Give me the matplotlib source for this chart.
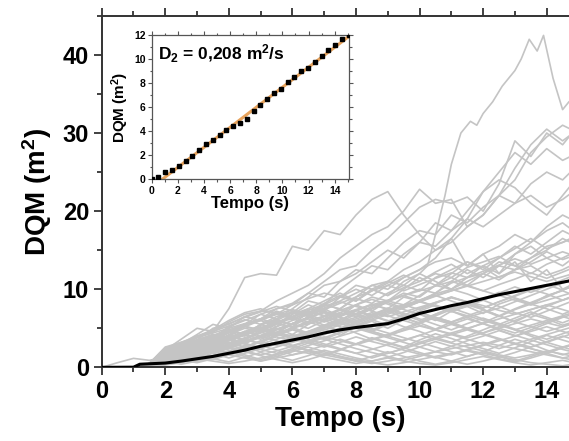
import numpy as np
import matplotlib.pyplot as plt
from matplotlib.ticker import MultipleLocator

plt.rcParams['font.family'] = 'Liberation Sans'
plt.rcParams['font.weight'] = 'bold'
plt.rcParams['mathtext.fontset'] = 'custom'
plt.rcParams['mathtext.rm'] = 'Liberation Sans:bold'
plt.rcParams['mathtext.bf'] = 'Liberation Sans:bold'
plt.rcParams['mathtext.default'] = 'bf'

# sample times of the individual walks (s)
t_walk = [0, 0.5, 1, 1.5, 2, 2.5, 3, 3.5, 4, 4.5, 5, 5.5, 6, 6.5, 7, 7.5,
          8, 8.5, 9, 9.5, 10, 10.5, 11, 11.5, 12, 12.5, 13, 13.5, 14, 14.5, 15]

# the walk that peaks at ~42 m^2
t_peak = [0, 0.5, 1, 1.5, 2, 2.5, 3, 3.5, 4, 4.5, 5, 5.5, 6, 6.5, 7, 7.5, 8, 8.5,
          9, 9.5, 10, 10.25, 10.5, 10.8, 11.0, 11.3, 11.6, 11.8, 12.0, 12.3, 12.6,
          13.0, 13.2, 13.45, 13.7, 13.9, 14.2, 14.5, 14.7, 15]
v_peak = [0, 0, 0, 0.3, 1.5, 2.8, 3.5, 4.2, 3.8, 5.5, 6.0, 5.2, 6.8, 8.0, 7.2, 9.0,
          8.5, 10.0, 9.2, 11.0, 12.0, 13.0, 17.0, 22.0, 26.0, 30.0, 31.5, 31.0,
          32.5, 34.0, 36.0, 38.0, 39.5, 42.0, 40.5, 42.5, 37.0, 33.0, 34.0, 35.0]

high_walks = [
    [0, 0, 0, 0.5, 2.2, 3.6, 5.0, 4.6, 7.5, 11.5, 12.0, 11.8, 15.5, 15.0, 17.5, 17.0, 19.5, 21.5, 22.5, 19.5, 17.0, 15.0, 16.5, 13.0, 14.5, 12.0, 13.5, 11.0, 12.5, 10.0, 11.0],
    [0, 0, 0, 0.2, 1.5, 3.0, 4.2, 5.5, 5.0, 6.5, 7.2, 8.5, 9.5, 10.5, 12.0, 14.0, 15.5, 17.0, 18.0, 20.0, 22.8, 21.0, 21.5, 18.0, 19.5, 22.0, 25.5, 28.5, 30.5, 29.0, 30.5],
    [0, 0, 0, 0.2, 1.2, 2.5, 3.0, 4.0, 4.8, 5.5, 6.2, 7.5, 8.2, 9.5, 11.0, 12.5, 13.0, 15.0, 16.5, 18.5, 20.5, 21.5, 21.0, 21.8, 20.0, 23.5, 29.0, 27.0, 30.0, 28.5, 31.0],
    [0, 0, 0, 0.4, 1.8, 2.2, 3.5, 3.2, 4.5, 5.2, 4.8, 6.0, 7.0, 6.5, 8.0, 7.5, 9.0, 10.5, 10.0, 11.5, 12.5, 14.0, 16.5, 19.0, 22.5, 25.0, 27.5, 26.0, 28.0, 26.5, 27.5],
    [0, 0, 0, 0.1, 1.0, 1.8, 2.5, 3.8, 4.0, 5.5, 6.8, 6.2, 7.5, 9.0, 10.5, 11.0, 12.5, 12.0, 14.0, 16.0, 17.5, 17.0, 19.5, 18.5, 20.5, 22.0, 21.0, 23.5, 25.0, 24.0, 26.0],
    [0, 0, 0, 0.3, 2.0, 2.6, 3.8, 4.8, 6.0, 7.0, 7.5, 6.8, 8.0, 9.5, 9.0, 11.0, 12.0, 13.5, 15.0, 14.0, 16.0, 15.5, 17.5, 19.0, 18.0, 19.5, 21.0, 22.0, 20.5, 21.5, 23.0],
    [0, 0, 0, 0.0, 0.8, 1.5, 2.8, 3.5, 4.5, 4.0, 5.5, 6.5, 7.0, 8.5, 8.0, 10.0, 11.5, 13.0, 12.5, 14.5, 16.0, 18.5, 17.5, 20.0, 22.5, 24.0, 23.0, 21.0, 19.5, 22.0, 24.5],
    [0, 0, 0, 0.2, 1.0, 1.8, 2.4, 3.0, 3.6, 4.2, 5.0, 5.8, 6.2, 7.0, 7.8, 8.5, 9.5, 10.5, 11.0, 12.5, 13.5, 15.0, 16.0, 18.0, 19.5, 22.0, 24.0, 27.5, 29.5, 31.0, 30.0],
]

mid_walks = [
    [0, 0, 0, 0.3, 1.4, 2.0, 2.8, 3.5, 3.0, 4.5, 5.0, 6.0, 5.5, 7.0, 7.5, 6.5, 8.0, 9.0, 8.5, 10.0, 11.5, 10.5, 12.0, 13.5, 12.5, 14.0, 15.5, 14.5, 16.0, 17.5, 16.5],
    [0, 0, 0, 0.5, 2.5, 3.0, 3.5, 5.0, 5.5, 6.5, 6.0, 7.2, 6.5, 7.5, 8.5, 9.5, 8.5, 10.0, 11.0, 10.5, 12.0, 11.0, 10.0, 11.5, 13.0, 12.0, 14.5, 15.5, 14.0, 13.0, 14.5],
    [0, 0, 0, 0.0, 1.0, 1.5, 2.0, 2.5, 3.2, 3.0, 4.0, 4.5, 5.5, 5.0, 6.0, 7.0, 6.5, 7.5, 8.5, 9.5, 9.0, 10.5, 11.5, 10.5, 12.0, 13.0, 12.5, 14.0, 15.0, 16.5, 15.5],
    [0, 0, 0, 0.2, 1.6, 2.4, 2.0, 3.0, 4.2, 5.0, 4.6, 5.5, 6.8, 7.5, 7.0, 6.0, 7.2, 8.0, 7.5, 9.0, 8.5, 9.5, 11.0, 12.5, 11.5, 13.0, 14.5, 16.0, 17.5, 18.5, 17.0],
    [0, 0, 0, 0.1, 0.8, 1.2, 2.2, 2.8, 2.5, 3.5, 4.8, 5.6, 5.2, 6.5, 6.0, 7.5, 8.8, 8.2, 9.5, 10.5, 9.8, 11.5, 12.5, 13.5, 12.8, 11.5, 12.5, 13.0, 11.8, 12.5, 13.5],
    [0, 0, 0, 0.4, 2.0, 2.8, 4.0, 4.5, 5.8, 6.8, 7.2, 7.0, 6.2, 7.0, 8.0, 9.0, 10.0, 9.2, 10.5, 11.5, 12.5, 13.5, 14.0, 13.0, 14.5, 15.5, 17.0, 16.0, 18.0, 19.5, 18.5],
    [0, 0, 0, 0.3, 1.2, 1.8, 2.5, 3.5, 4.0, 3.6, 4.5, 5.0, 4.2, 5.5, 6.5, 7.0, 8.0, 7.2, 8.5, 9.2, 10.0, 9.5, 10.8, 11.5, 12.0, 13.5, 13.0, 12.0, 13.2, 14.0, 15.0],
    [0, 0, 0, 0.0, 0.5, 1.0, 1.5, 2.2, 3.0, 3.8, 4.5, 4.0, 5.0, 5.8, 6.5, 5.8, 6.8, 7.8, 8.5, 8.0, 9.2, 10.5, 10.0, 11.0, 12.0, 11.2, 12.5, 13.5, 14.8, 13.8, 14.5],
    [0, 0, 0, 0.2, 1.8, 2.6, 3.0, 3.8, 5.2, 6.0, 6.8, 7.5, 8.0, 8.8, 9.5, 9.0, 10.5, 10.0, 9.2, 10.2, 11.0, 12.0, 11.5, 12.8, 13.5, 14.2, 13.0, 14.0, 15.5, 16.0, 17.0],
    [0, 0, 0, 0.1, 1.0, 2.2, 3.2, 4.0, 4.8, 4.2, 5.5, 6.2, 7.2, 6.8, 8.2, 9.2, 8.5, 9.8, 10.8, 11.8, 11.0, 12.2, 13.2, 12.0, 13.0, 14.0, 15.2, 16.5, 15.2, 16.0, 16.8],
]

low_walks = [
    [0, 0, 0, 0.2, 1.0, 1.6, 1.2, 2.2, 2.8, 2.4, 3.3, 3.9, 3.4, 4.3, 4.9, 4.1, 5.2, 5.9, 5.0, 6.1, 6.8, 6.0, 7.2, 7.8, 6.9, 8.1, 8.8, 8.0, 9.2, 9.8, 9.0],
    [0, 0, 0, 0.4, 2.2, 2.8, 3.4, 2.6, 3.8, 4.6, 5.2, 4.4, 5.6, 6.2, 5.4, 4.6, 5.8, 6.6, 7.2, 6.4, 5.6, 6.8, 7.6, 8.2, 7.4, 6.6, 5.8, 6.8, 7.8, 8.6, 9.4],
    [0, 0.6, 1.15, 0.9, 1.3, 1.1, 1.8, 2.4, 1.8, 2.6, 3.4, 4.1, 4.8, 4.2, 3.6, 4.4, 5.2, 4.6, 4.0, 4.8, 5.6, 6.4, 5.8, 5.0, 4.4, 5.2, 6.0, 6.8, 6.2, 5.4, 6.0],
    [0, 0, 0, 0.3, 1.4, 2.0, 2.6, 3.2, 3.8, 4.6, 4.0, 3.4, 2.8, 3.4, 4.2, 5.0, 5.8, 6.6, 6.0, 5.2, 4.6, 3.8, 3.2, 4.0, 4.8, 5.6, 4.8, 4.0, 3.2, 2.6, 3.2],
    [0, 0, 0, 0.0, 0.4, 0.8, 1.4, 1.0, 1.6, 2.2, 2.8, 2.2, 1.6, 2.2, 2.8, 3.6, 3.0, 2.4, 1.8, 2.4, 3.2, 2.6, 2.0, 1.4, 2.0, 2.8, 3.6, 3.0, 2.2, 1.6, 2.2],
    [0, 0, 0, 0.2, 1.2, 1.8, 2.4, 3.0, 3.6, 3.0, 2.4, 3.0, 3.8, 4.6, 5.4, 6.2, 5.6, 6.4, 7.2, 8.0, 7.4, 8.2, 9.0, 8.4, 7.6, 8.4, 9.2, 10.0, 9.4, 8.6, 9.4],
    [0, 0, 0, 0.5, 2.4, 3.0, 2.4, 1.8, 2.4, 3.2, 4.0, 4.8, 5.6, 6.4, 7.0, 6.4, 5.6, 4.8, 5.6, 6.4, 7.2, 8.0, 7.2, 6.4, 5.6, 4.8, 4.0, 4.8, 5.6, 6.4, 7.0],
    [0, 0, 0, 0.1, 0.8, 1.4, 0.8, 1.4, 2.0, 1.4, 0.8, 1.4, 2.0, 2.6, 2.0, 1.4, 0.8, 1.4, 2.0, 1.4, 0.8, 0.4, 0.8, 1.4, 2.0, 1.4, 0.8, 1.4, 2.0, 2.6, 2.0],
    [0, 0, 0, 0.3, 1.6, 2.2, 2.8, 3.6, 4.4, 5.2, 6.0, 6.8, 7.4, 6.8, 6.0, 5.2, 4.4, 3.6, 4.2, 5.0, 5.8, 6.6, 7.4, 8.0, 7.4, 6.6, 5.8, 5.2, 4.6, 5.2, 6.0],
    [0, 0, 0, 0.2, 1.0, 1.6, 2.2, 2.8, 2.2, 1.6, 1.0, 1.6, 2.2, 2.8, 3.4, 4.0, 4.6, 5.2, 5.8, 6.4, 7.0, 6.4, 5.8, 6.4, 7.0, 7.6, 8.4, 9.2, 10.0, 10.8, 11.6],
    [0, 0, 0, 0.0, 0.6, 1.2, 1.8, 2.4, 3.0, 3.6, 3.0, 3.6, 4.2, 3.6, 3.0, 2.4, 1.8, 1.2, 1.8, 2.4, 3.0, 3.6, 4.2, 4.8, 4.2, 3.6, 3.0, 2.4, 1.8, 1.2, 0.8],
    [0, 0, 0, 0.4, 2.0, 2.6, 3.2, 3.8, 4.6, 5.4, 6.2, 7.0, 6.4, 5.8, 5.2, 4.6, 5.4, 6.2, 7.0, 7.8, 8.6, 9.4, 10.0, 9.4, 8.6, 7.8, 7.0, 6.4, 7.2, 8.0, 8.8],
    [0, 0, 0, 0.1, 0.6, 1.0, 1.5, 2.0, 2.6, 3.2, 3.8, 4.4, 5.0, 5.6, 6.2, 5.6, 5.0, 4.4, 3.8, 3.2, 2.6, 2.0, 1.6, 2.2, 2.8, 3.4, 4.0, 4.6, 5.2, 4.6, 4.0],
    [0, 0, 0, 0.3, 1.8, 2.4, 3.0, 3.6, 3.0, 3.6, 4.4, 5.2, 6.0, 6.8, 7.6, 8.4, 7.8, 7.2, 6.6, 6.0, 5.4, 4.8, 4.2, 3.6, 3.0, 2.4, 3.0, 3.6, 4.2, 4.8, 5.4],
    [0, 0, 0, 0.2, 0.8, 0.4, 0.8, 1.2, 1.6, 1.2, 0.8, 1.2, 1.6, 2.0, 1.6, 1.2, 0.8, 0.5, 0.8, 1.2, 1.6, 2.0, 2.4, 2.8, 3.2, 2.8, 2.4, 2.0, 1.6, 1.2, 1.6],
    [0, 0, 0, 0.5, 2.6, 3.2, 3.8, 4.4, 5.0, 5.6, 6.2, 6.8, 6.2, 5.6, 6.2, 6.8, 7.4, 8.0, 8.6, 9.2, 9.8, 10.4, 11.0, 10.4, 9.8, 9.2, 8.6, 8.0, 8.6, 9.2, 9.8],
    [0, 0, 0, 0.2, 1.2, 1.8, 2.4, 1.8, 1.2, 1.8, 2.4, 3.0, 3.6, 4.2, 4.8, 5.4, 6.0, 6.6, 7.2, 7.8, 8.4, 7.8, 7.2, 6.6, 6.0, 5.4, 4.8, 5.4, 6.0, 6.6, 7.2],
    [0, 0, 0, 0.0, 0.3, 0.6, 1.0, 1.4, 1.8, 2.2, 2.6, 3.0, 2.6, 2.2, 1.8, 1.4, 1.0, 0.6, 0.3, 0.6, 1.0, 1.4, 1.8, 2.2, 1.8, 1.4, 1.0, 0.6, 0.4, 0.2, 0.5],
    [0, 0, 0, 0.3, 1.4, 2.0, 2.6, 3.2, 3.8, 4.4, 5.0, 4.4, 3.8, 4.4, 5.0, 5.6, 6.2, 6.8, 7.4, 8.0, 8.6, 9.2, 9.8, 10.4, 11.0, 11.6, 12.2, 11.6, 11.0, 11.6, 12.2],
    [0, 0, 0, 0.1, 0.8, 1.4, 2.0, 2.6, 3.2, 2.6, 2.0, 2.6, 3.2, 3.8, 4.4, 5.0, 5.6, 5.0, 4.4, 3.8, 3.2, 3.8, 4.4, 5.0, 5.6, 6.2, 6.8, 7.4, 8.0, 7.4, 6.8],
    [0, 0, 0, 0.1, 0.9, 1.7, 2.3, 1.9, 2.7, 3.5, 3.1, 4.2, 4.9, 4.3, 5.1, 5.8, 5.2, 4.6, 5.5, 6.3, 5.7, 4.9, 5.8, 6.6, 7.3, 6.5, 7.4, 8.1, 7.5, 6.8, 7.6],
    [0, 0, 0, 0.3, 1.7, 1.3, 2.1, 2.9, 3.6, 3.1, 2.5, 3.3, 2.8, 2.1, 1.5, 2.2, 3.0, 3.8, 3.2, 2.6, 3.5, 4.3, 3.7, 3.0, 2.4, 1.8, 2.5, 3.3, 4.1, 3.5, 2.9],
    [0, 0, 0, 0.2, 1.3, 2.1, 2.9, 3.7, 4.5, 5.3, 4.7, 5.6, 6.5, 7.2, 6.6, 7.5, 6.8, 6.1, 5.4, 6.2, 7.1, 6.3, 5.6, 4.9, 5.7, 6.6, 7.5, 8.3, 9.1, 9.9, 10.6],
    [0, 0, 0, 0.0, 0.5, 0.9, 0.6, 1.1, 0.7, 1.3, 1.9, 1.4, 0.9, 1.5, 2.2, 1.7, 1.2, 0.8, 1.3, 1.9, 2.6, 3.3, 2.7, 2.1, 1.6, 1.1, 0.7, 1.2, 1.8, 2.5, 3.1],
    [0, 0, 0, 0.4, 2.1, 2.9, 3.5, 4.2, 3.6, 4.5, 5.4, 6.1, 5.5, 6.3, 7.1, 6.4, 5.8, 6.7, 7.6, 6.9, 6.2, 5.5, 4.8, 5.6, 6.3, 5.6, 4.9, 4.2, 3.6, 4.3, 5.0],
    [0, 0, 0, 0.1, 0.7, 1.2, 1.8, 1.3, 1.9, 2.6, 3.3, 2.8, 3.5, 4.1, 3.6, 3.0, 2.4, 1.9, 1.4, 0.9, 1.4, 2.0, 2.7, 3.4, 4.0, 4.7, 4.1, 3.5, 2.9, 2.3, 1.8],
    [0, 0, 0, 0.2, 1.5, 2.3, 1.8, 2.6, 3.4, 4.2, 5.0, 5.7, 5.1, 4.4, 5.3, 6.1, 6.9, 7.6, 8.3, 7.6, 8.4, 9.2, 8.5, 7.8, 8.6, 9.5, 10.3, 9.6, 10.4, 11.2, 12.0],
    [0, 0, 0, 0.3, 1.1, 0.7, 1.2, 1.8, 2.5, 2.0, 1.5, 1.0, 0.6, 1.0, 1.6, 2.3, 3.0, 3.7, 3.1, 2.5, 1.9, 1.3, 0.8, 0.4, 0.8, 1.3, 1.9, 2.6, 3.3, 4.0, 3.4],
    [0, 0, 0, 0.1, 1.0, 1.8, 2.6, 3.3, 4.0, 3.4, 4.1, 4.9, 5.6, 6.4, 5.8, 6.6, 7.3, 6.6, 5.9, 6.7, 7.5, 8.3, 9.0, 8.3, 7.6, 8.4, 9.1, 9.9, 10.6, 9.9, 10.7],
    [0, 0, 0, 0.2, 0.9, 1.5, 2.2, 2.8, 3.5, 4.1, 4.8, 4.2, 3.7, 3.1, 2.6, 3.2, 3.9, 3.3, 2.8, 2.2, 1.7, 1.2, 1.7, 2.3, 2.9, 3.6, 3.0, 2.4, 1.9, 2.5, 3.2],
    [0, 0, 0, 0.4, 2.3, 3.1, 3.8, 4.6, 5.3, 6.1, 5.5, 4.8, 5.6, 6.4, 7.2, 6.5, 7.3, 8.1, 7.4, 6.7, 6.0, 6.8, 7.6, 6.9, 6.2, 5.5, 6.3, 7.1, 6.4, 5.7, 6.5],
    [0, 0, 0, 0.0, 0.4, 0.7, 1.1, 0.8, 0.5, 0.8, 1.2, 1.7, 2.2, 1.8, 1.3, 0.9, 0.5, 0.8, 1.2, 0.8, 0.5, 0.3, 0.6, 1.0, 1.4, 1.0, 0.6, 0.3, 0.6, 0.9, 0.5],
    [0, 0, 0, 0.3, 1.4, 2.2, 3.0, 3.8, 4.6, 5.4, 6.2, 5.6, 6.4, 7.3, 8.1, 7.4, 6.7, 7.5, 8.4, 9.2, 8.5, 7.8, 7.1, 7.9, 8.8, 9.6, 8.9, 8.2, 9.0, 9.9, 10.8],
    [0, 0, 0, 0.1, 0.8, 1.3, 0.9, 1.5, 2.1, 2.8, 2.3, 1.8, 2.4, 3.1, 3.8, 4.5, 5.2, 4.6, 4.0, 3.4, 4.1, 4.8, 5.5, 4.9, 4.3, 3.7, 3.1, 2.6, 3.2, 3.9, 4.6],
    [0, 0, 0, 0.2, 1.6, 2.5, 3.2, 2.7, 3.5, 4.3, 5.0, 5.8, 6.5, 7.2, 6.6, 5.9, 5.3, 6.0, 6.8, 7.6, 8.4, 9.1, 9.8, 10.5, 9.8, 10.6, 11.3, 12.1, 11.4, 12.2, 13.0],
    [0, 0, 0, 0.0, 0.6, 1.0, 1.5, 2.0, 1.6, 2.1, 2.7, 3.2, 3.8, 3.3, 2.8, 2.3, 1.8, 2.3, 2.9, 3.5, 4.1, 3.6, 3.1, 2.6, 2.1, 1.6, 1.2, 1.6, 2.1, 1.7, 1.3],
    [0, 0, 0, 0.3, 1.9, 2.7, 3.4, 4.1, 4.8, 4.2, 3.6, 4.3, 5.1, 5.9, 6.6, 7.3, 8.0, 8.7, 8.1, 7.4, 6.8, 6.1, 5.5, 6.2, 5.6, 5.0, 4.4, 5.1, 5.8, 6.5, 5.9],
    [0, 0, 0, 0.1, 0.6, 1.1, 1.6, 2.2, 2.8, 3.3, 3.9, 4.5, 4.0, 4.6, 5.2, 5.8, 6.4, 7.0, 6.5, 7.1, 7.7, 8.3, 8.9, 8.4, 7.9, 7.3, 6.8, 7.4, 8.0, 8.6, 9.2],
    [0, 0, 0, 0.2, 1.2, 1.9, 2.5, 3.1, 2.6, 2.1, 1.6, 2.1, 2.7, 3.3, 3.9, 3.4, 2.9, 3.5, 4.1, 4.7, 5.3, 4.8, 4.3, 3.8, 4.4, 5.0, 5.6, 6.2, 5.7, 5.2, 5.8],
    [0, 0, 0, 0.4, 2.4, 3.2, 4.0, 4.8, 5.6, 6.4, 7.1, 7.8, 7.2, 6.6, 7.4, 8.2, 9.0, 9.8, 10.5, 9.8, 10.6, 11.4, 12.1, 11.5, 12.3, 13.1, 13.9, 13.2, 14.0, 14.8, 14.1],
]

# mean square displacement (black curve)
t_mean = [0, 1.0, 1.2, 2.0, 2.5, 3.0, 3.5, 4.0, 4.5, 5.0, 5.5, 6.0, 6.5, 7.0, 7.5,
          8.0, 8.5, 9.0, 9.5, 10.0, 10.5, 11.0, 11.5, 12.0, 12.5, 13.0, 13.5,
          14.0, 14.5, 15.0]
v_mean = [0, 0.02, 0.4, 0.55, 0.8, 1.1, 1.4, 1.8, 2.2, 2.7, 3.1, 3.5, 3.9, 4.4,
          4.8, 5.1, 5.35, 5.6, 6.2, 6.9, 7.4, 7.9, 8.3, 8.8, 9.3, 9.7, 10.1,
          10.5, 10.9, 11.3]

# inset: binned MSD and linear fit
t_in = [0, 0.52, 1.04, 1.56, 2.08, 2.6, 3.12, 3.64, 4.16, 4.68, 5.2, 5.72,
        6.24, 6.76, 7.28, 7.8, 8.32, 8.84, 9.36, 9.88, 10.4, 10.92, 11.44,
        11.96, 12.48, 13.0, 13.52, 14.04, 14.56, 15.08]
v_in = [0.0, 0.2, 0.57, 0.8, 1.1, 1.5, 1.94, 2.4, 2.9, 3.25, 3.72, 4.08, 4.44,
        4.69, 5.05, 5.72, 6.22, 6.67, 7.19, 7.53, 8.06, 8.53, 9.0, 9.28, 9.75,
        10.22, 10.75, 11.16, 11.63, 11.97]
D2 = 0.208
fit_b = -0.67

fig = plt.figure(figsize=(5.69, 4.41), dpi=100)
ax = fig.add_axes([0.1787, 0.167, 0.838, 0.797])

gray = '#c4c4c4'
for w in low_walks + mid_walks + high_walks:
    ax.plot(t_walk, w, color=gray, lw=1.2, zorder=1)
ax.plot(t_peak, v_peak, color=gray, lw=1.2, zorder=1)
ax.plot(t_mean, v_mean, color='black', lw=2.2, zorder=3)

ax.set_xlim(0, 15)
ax.set_ylim(0, 45)
ax.xaxis.set_major_locator(MultipleLocator(2))
ax.xaxis.set_minor_locator(MultipleLocator(1))
ax.yaxis.set_major_locator(MultipleLocator(10))
ax.yaxis.set_minor_locator(MultipleLocator(5))
ax.tick_params(which='both', direction='out', top=True, right=False,
               labelsize=17, width=1.3, color='#333333', pad=3)
ax.tick_params(which='major', length=6)
ax.tick_params(which='minor', length=3.5)
for s in ax.spines.values():
    s.set_linewidth(1.4)
    s.set_color('#333333')
ax.set_xlabel('Tempo (s)', fontsize=20, fontweight='bold', labelpad=2)
ax.set_ylabel('DQM (m$^2$)', fontsize=20, fontweight='bold', labelpad=6)

ins = fig.add_axes([0.2666, 0.5934, 0.3468, 0.3272])
slope = 4 * D2
t_fit = np.array([-fit_b / slope, 15.1])
ins.plot(t_fit, slope * t_fit + fit_b, color='#e8a35c', lw=2.2, zorder=2)
ins.plot(t_in, v_in, 's', color='black', ms=3.0, zorder=3)
ins.set_xlim(0, 15.1)
ins.set_ylim(0, 12)
ins.xaxis.set_major_locator(MultipleLocator(2))
ins.xaxis.set_minor_locator(MultipleLocator(1))
ins.yaxis.set_major_locator(MultipleLocator(2))
ins.yaxis.set_minor_locator(MultipleLocator(1))
ins.tick_params(which='both', direction='out', labelsize=7.5, width=0.8,
                color='#555555', pad=1.5)
ins.tick_params(which='major', length=3)
ins.tick_params(which='minor', length=1.8)
ins.tick_params(which='both', top=True, right=True)
for s in ins.spines.values():
    s.set_linewidth(0.9)
    s.set_color('#555555')
ins.set_xlabel('Tempo (s)', fontsize=12, fontweight='bold', labelpad=0)
ins.set_ylabel('DQM (m$^2$)', fontsize=11, fontweight='bold', labelpad=2)
ins.text(0.03, 0.83, 'D$_2$ = 0,208 m$^2$/s', transform=ins.transAxes,
         fontsize=12.5, fontweight='bold')

fig.savefig('out.png', dpi=100)
